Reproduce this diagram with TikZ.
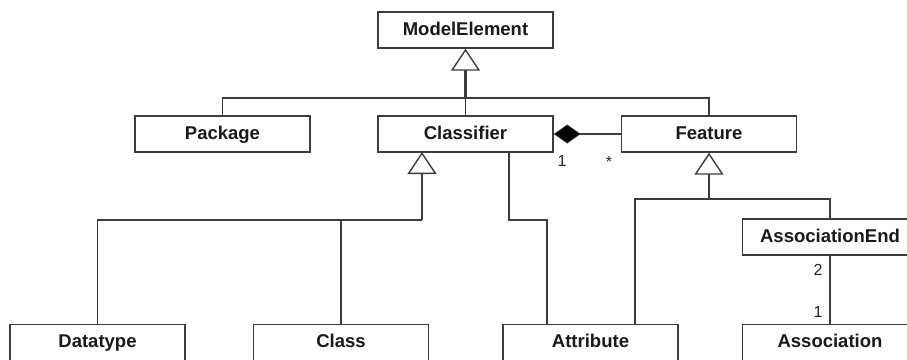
\documentclass[tikz,border=0pt]{standalone}
\usepackage{fontspec}
\setmainfont{Liberation Sans}
\usetikzlibrary{arrows.meta}
\definecolor{ln}{HTML}{3C3C3C}
\tikzset{
  cls/.style={draw=ln, line width=1.4pt, fill=white, minimum width=175pt, minimum height=36pt,
    inner sep=0pt, text height=13.5pt, text depth=3.5pt,
    font=\fontsize{18.5}{22}\selectfont\bfseries, text=black!90},
  conn/.style={draw=ln, line width=1.3pt},
  stem/.style={draw=ln, line width=2.2pt},
  gen/.style={-{Triangle[length=22pt, width=29pt, fill=white, line width=1.4pt]}},
  comp/.style={-{Diamond[length=27pt, width=19pt, fill=black, line width=0.8pt]}},
  mult/.style={font=\fontsize{16}{18}\selectfont, text=black!85, inner sep=0pt}
}
\begin{document}
\begin{tikzpicture}[x=1pt, y=-1pt]
\useasboundingbox (0,0) rectangle (907,359);
\clip (0,0) rectangle (907,359);
\fill[white] (0,0) rectangle (907,359);

\node[cls] (me) at (465.5,30) {ModelElement};
\node[cls] (pkg) at (222.5,134) {Package};
\node[cls] (clf) at (465.5,134) {Classifier};
\node[cls] (feat) at (709,134) {Feature};
\node[cls] (dt) at (97.5,342.5) {Datatype};
\node[cls] (cl) at (341,342.5) {Class};
\node[cls] (attr) at (590.5,342.5) {Attribute};
\node[cls] (ae) at (830,237) {AssociationEnd};
\node[cls] (as) at (830,342.5) {Association};

% generalization to ModelElement
\coordinate (j1) at (465.5,98);
\draw[conn] (pkg.north) |- (j1) -| (feat.north);
\draw[conn] (clf.north) -- (j1);
\draw[stem, gen] (j1) -- (me.south);

% generalization to Classifier
\coordinate (j2) at (422,220);
\coordinate (c2) at (422,152);
\draw[conn] (dt.north) |- (j2);
\draw[conn] (cl.north) |- (j2);
\draw[stem, gen] (j2) -- (c2);

% Classifier to Attribute
\coordinate (ca1) at (509,152);
\coordinate (ca2) at (547,220);
\coordinate (ca3) at (547,324.5);
\draw[conn] (ca1) |- (ca2) -- (ca3);

% generalization to Feature
\coordinate (j3) at (709,199);
\coordinate (fa) at (635,324.5);
\draw[conn] (fa) |- (j3) -| (ae.north);
\draw[stem, gen] (j3) -- (feat.south);

% composition
\draw[conn, comp] (feat.west) -- (clf.east);
\node[mult] (m1) at (562,161) {1};
\node[mult] (m2) at (609,162) {*};

% association
\draw[conn] (ae.south) -- (as.north);
\node[mult] (m3) at (818,270) {2};
\node[mult] (m4) at (818,312) {1};
\end{tikzpicture}
\end{document}
